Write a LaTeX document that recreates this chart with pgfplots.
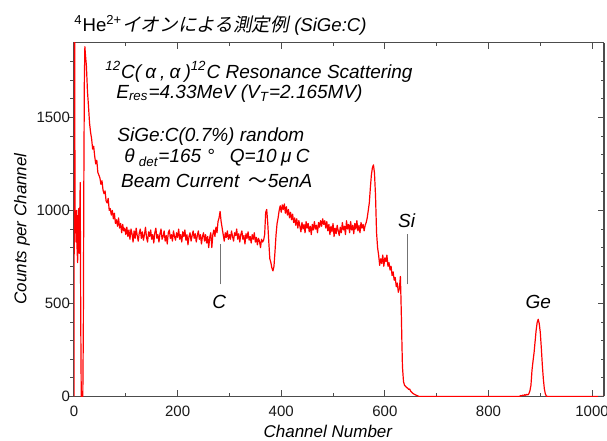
\documentclass[border=0pt]{standalone}
\usepackage{fontspec}
\setmainfont{Liberation Sans}
\newfontfamily\jpfont{Noto Sans CJK JP}[FakeSlant=0.2]
\newfontfamily\jpup{Noto Sans CJK JP}
\usepackage{pgfplots}
\pgfplotsset{compat=1.18}
\usepackage{pgfplotstable}

% RBS spectrum, counts
\pgfplotstableread{
ch cnt
0 0
1 2600
2 880
3 990
4 830
5 1000
6 790
7 720
8 950
9 1010
10 770
11 960
12 1150
13 420
14 0
17 0
18 350
19 1150
20 1700
21 1880
22 1840
24 1775
26 1640
28 1560
30 1470
32 1420
34 1385
36 1330
38 1345
40 1290
42 1250
44 1270
46 1205
48 1190
50 1175
52 1140
54 1160
56 1110
58 1090
60 1105
62 1050
64 1040
66 1065
68 1000
70 1010
72 975
74 1000
76 955
78 985
80 930
82 950
84 915
86 960
88 905
90 930
92 880
94 925
96 890
98 905
100 870
102 910
104 860
106 895
108 845
110 900
112 875
114 830
116 890
118 850
120 905
122 865
124 835
126 880
128 900
130 850
132 885
134 840
136 870
138 910
140 855
142 830
144 885
146 860
148 895
150 845
152 870
154 825
156 880
158 905
160 850
162 870
164 830
166 875
168 900
170 845
172 860
174 890
176 835
178 865
180 820
182 880
184 895
186 850
188 870
190 835
192 890
194 860
196 840
198 880
200 855
202 900
204 845
206 870
208 830
210 885
212 860
214 895
216 840
218 870
220 815
222 860
224 880
226 835
228 865
230 890
232 850
234 875
236 830
238 865
240 890
242 845
244 870
246 820
248 860
250 880
252 835
254 870
256 825
258 860
260 800
262 855
264 880
266 800
268 870
270 895
272 860
274 910
276 880
278 940
280 960
282 995
284 940
286 905
288 870
290 835
292 880
294 855
296 890
298 845
300 870
302 845
304 890
306 860
308 835
310 880
312 865
314 900
316 845
318 875
320 830
322 870
324 890
326 845
328 865
330 820
332 875
334 850
336 885
338 840
340 860
342 825
344 870
346 845
348 880
350 830
352 855
354 815
356 850
358 835
360 800
362 845
364 830
366 840
368 870
370 990
372 1005
374 930
376 830
378 740
380 720
382 690
384 675
386 700
388 780
390 870
392 930
394 960
396 1000
398 1025
400 990
402 1030
404 1005
406 1035
408 985
410 1020
412 975
414 1005
416 960
418 990
420 950
422 980
424 935
426 960
428 920
430 955
432 905
434 945
436 915
438 885
440 935
442 900
444 925
446 880
448 940
450 905
452 930
454 885
456 915
458 870
460 925
462 895
464 940
466 900
468 920
470 880
472 935
474 910
476 945
478 915
480 955
482 925
484 945
486 905
488 940
490 890
492 925
494 870
496 915
498 885
500 930
502 860
504 905
506 875
508 920
510 890
512 865
514 910
516 880
518 935
520 895
522 915
524 870
526 945
528 900
530 925
532 880
534 940
536 895
538 920
540 875
542 930
544 900
546 945
548 890
550 920
552 880
554 935
556 905
558 925
560 890
562 920
564 935
566 960
568 1000
570 1040
572 1120
574 1190
576 1230
578 1245
580 1200
582 1080
584 880
586 800
588 760
590 705
592 740
594 715
596 760
598 700
600 745
602 725
604 760
606 700
608 720
610 680
612 700
614 650
616 670
618 625
620 640
622 590
624 610
626 560
628 580
630 645
631 540
632 420
633 280
634 160
636 80
638 60
640 55
642 48
644 45
646 38
648 40
650 28
652 22
655 15
658 10
662 5
666 0
860 0
862 5
864 3
866 8
868 4
870 10
872 6
874 12
876 8
878 15
880 30
882 60
884 140
886 190
888 235
890 295
892 355
894 398
896 415
898 392
900 345
902 262
904 168
906 92
908 38
910 12
912 2
914 0
1023 0
}\spectrum

\newcommand{\fw}[1]{\makebox[1em]{#1}}

\begin{document}
\begin{tikzpicture}
\begin{axis}[
    name=ax,
    scale only axis,
    width=265pt, height=176.75pt,
    xmin=0, xmax=1023, ymin=0, ymax=1900,
    xtick={0,200,...,1000},
    minor xtick={100,300,...,900},
    ytick={0,500,1000,1500},
    minor ytick={100,200,300,400,600,700,800,900,1100,1200,1300,1400,1600,1700,1800},
    ytick pos=left,
    xtick align=inside, ytick align=outside,
    major tick length=3pt, minor tick length=1.75pt,
    axis line style={black!70, line width=0.5pt},
    every tick/.style={black!70, line width=0.5pt},
    tick label style={font=\fontsize{7.5}{9}\selectfont, text=black!90},
    /pgf/number format/assume math mode=true,
    /pgf/number format/1000 sep={},
    xticklabel style={yshift=-1pt},
    yticklabel style={xshift=4.5pt},
    xlabel={\itshape Channel Number},
    ylabel={\itshape Counts per Channel},
    label style={font=\fontsize{8.5}{10}\selectfont},
    xlabel style={at={(axis description cs:0.479,-0.0976)}, anchor=center},
    ylabel style={at={(axis description cs:-0.0981,0.474)}, anchor=center},
  ]
  \addplot[red, line width=0.6pt, line join=round] table[x=ch, y=cnt] {\spectrum};

  \draw[black!55, line width=0.4pt] (axis cs:282,602) -- (axis cs:282,818);
  \draw[black!55, line width=0.4pt] (axis cs:643.5,602) -- (axis cs:643.5,872);
  \node[font=\fontsize{9.5}{11}\selectfont\itshape] at (axis cs:280.5,506) {C};
  \node[font=\fontsize{9.5}{11}\selectfont\itshape] at (axis cs:642,943) {Si};
  \node[font=\fontsize{9.5}{11}\selectfont\itshape] at (axis cs:896,506) {Ge};

  \begin{scope}[every node/.style={anchor=base west, inner sep=0pt, font=\fontsize{9.5}{11}\selectfont\itshape}]
    \node at (rel axis cs:0.0585,0.900) {\textsuperscript{12}C(\fw{α},\fw{α})\textsuperscript{12}C Resonance Scattering};
    \node at (rel axis cs:0.0792,0.8436) {E\textsubscript{res}=4.33MeV (V\textsubscript{T}=2.165MV)};
    \node at (rel axis cs:0.0811,0.7208) {SiGe:C(0.7\%) random};
    \node at (rel axis cs:0.086,0.6605) {\fw{θ}\textsubscript{det}=165\fw{°}\enspace Q=10\fw{μ}C};
    \node at (rel axis cs:0.0881,0.5898) {Beam Current\enspace{\jpup ～}5enA};
  \end{scope}
\end{axis}
\begin{axis}[
    at={(ax.south west)}, anchor=south west,
    scale only axis,
    width=265pt, height=176.75pt,
    xmin=0, xmax=1023, ymin=0, ymax=1900,
    axis x line=none, axis y line*=right,
    ytick={0,500,1000,1500},
    minor ytick={100,200,300,400,600,700,800,900,1100,1200,1300,1400,1600,1700,1800},
    yticklabels={},
    tick align=inside,
    major tick length=3pt, minor tick length=1.75pt,
    axis line style={black!70, line width=0.5pt},
    every tick/.style={black!70, line width=0.5pt},
  ]
\end{axis}
\node[anchor=base west, inner sep=0pt, font=\fontsize{9.3}{11}\selectfont] at ([yshift=5.5pt]ax.north west)
  {\textsuperscript{4}He\textsuperscript{2+}{\jpfont イオンによる測定例} \itshape(SiGe:C)};
\pgfresetboundingbox
\path[use as bounding box] ([shift={(-37pt,-22.25pt)}]ax.south west) rectangle ([shift={(1.5pt,21.5pt)}]ax.north east);
\end{tikzpicture}
\end{document}
